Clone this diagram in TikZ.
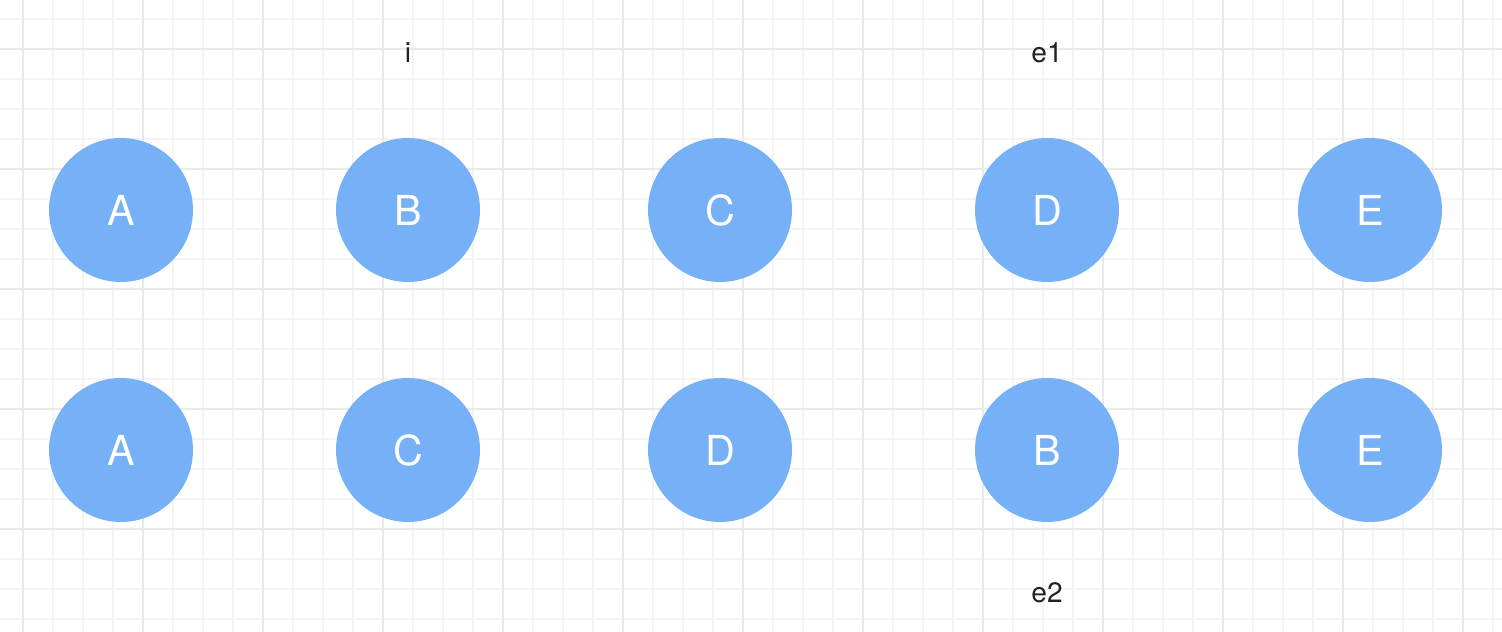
\documentclass[tikz,border=0pt]{standalone}
\usepackage{fontspec}
\setmainfont{TeX Gyre Heros}
\definecolor{nodeblue}{RGB}{118,176,247}
\definecolor{gridminor}{RGB}{244,244,244}
\definecolor{gridmajor}{RGB}{234,234,234}
\definecolor{labelgray}{RGB}{35,35,35}

\begin{document}
\begin{tikzpicture}[x=0.02cm,y=-0.02cm,
		main/.style = {circle, fill=nodeblue, minimum size=2.88cm, inner sep=0pt, text=white, font=\fontsize{23.5}{23.5}\selectfont},
		lab/.style = {anchor=base, text=labelgray, font=\fontsize{16}{16}\selectfont}]
				\useasboundingbox (0,0) rectangle (1502,632);
				% background grid
				\foreach \x in {23,53,...,1493} \draw[gridminor,line width=0.6pt] (\x,0) -- (\x,632);
				\foreach \y in {19,49,...,619} \draw[gridminor,line width=0.6pt] (0,\y) -- (1502,\y);
				\foreach \x in {23,143,...,1463} \draw[gridmajor,line width=0.9pt] (\x,0) -- (\x,632);
				\foreach \y in {49,169,...,529} \draw[gridmajor,line width=0.9pt] (0,\y) -- (1502,\y);
				\begin{scope}[every node/.style={main}]
					\node (A1) at (121,210) {A};
					\node (B1) at (408,210) {B};
					\node (C1) at (720,210) {C};
					\node (D1) at (1047,210) {D};
					\node (E1) at (1370,210) {E};
					\node (A2) at (121,450) {A};
					\node (C2) at (408,450) {C};
					\node (D2) at (720,450) {D};
					\node (B2) at (1047,450) {B};
					\node (E2) at (1370,450) {E};
				\end{scope}
				\node[lab] (i) at (408,62) {i};
				\node[lab] (e1) at (1047,62) {e1};
				\node[lab] (e2) at (1047,602) {e2};
			\end{tikzpicture}
\end{document}
